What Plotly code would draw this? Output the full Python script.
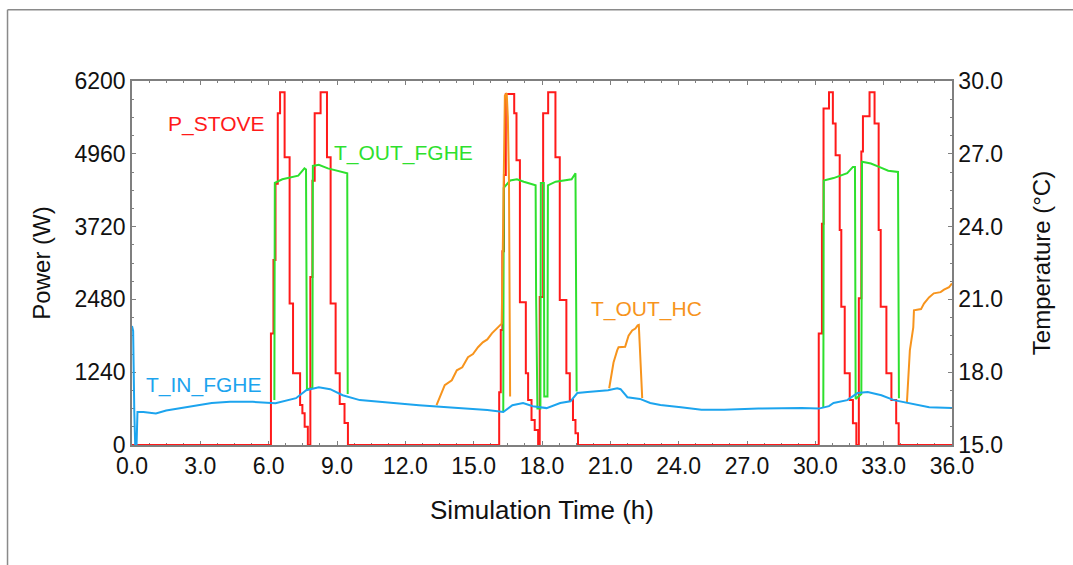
import plotly.graph_objects as go

# ---------------- data ----------------
# P_STOVE: stepwise power (W), step change points (drawn with hv steps)
p_time = [0.00, 6.10, 6.21, 6.30, 6.40, 6.50, 6.70, 6.92, 7.07, 7.38, 7.48, 7.58, 7.72,
          7.83, 7.92, 8.02, 8.28, 8.56, 8.72, 8.94, 9.12, 9.33, 9.48,
          16.12, 16.19, 16.26, 16.33, 16.41, 16.78, 16.88, 17.03, 17.29, 17.39, 17.54, 17.68, 17.83,
          17.90, 18.05, 18.27, 18.59, 18.78, 19.07, 19.22, 19.36, 19.47, 19.58,
          30.15, 30.29, 30.36, 30.60, 30.77, 30.89, 31.07, 31.14, 31.29, 31.51, 31.65, 31.80,
          31.91, 32.02, 32.09, 32.38, 32.60, 32.78, 32.87, 33.12, 33.34, 33.55, 33.66, 36.00]
p_power = [0, 1900, 3150, 4450, 5650, 6010, 4900, 2410, 1220, 680, 540, 310, 0,
           2860, 4500, 5650, 6010, 4900, 2410, 1220, 700, 375, 0,
           900, 1960, 3300, 4600, 5980, 5650, 4850, 2430, 1220, 765, 425, 255, 0,
           2520, 5650, 6010, 4900, 2470, 1220, 765, 425, 200, 0,
           1900, 3770, 5730, 6010, 5475, 4935, 3660, 2355, 1220, 765, 370, 0,
           2500, 5000, 5600, 6010, 5475, 3660, 2355, 1220, 765, 370, 0, 0]

# T_OUT_FGHE (degC), shown only while the stove runs (None = gap)
fghe_out_time = [6.25, 6.27, 6.60, 7.00, 7.30, 7.57, 7.64, 7.68, 7.92, 7.94, 8.20, 8.60, 9.00, 9.40, 9.45, 9.47, None,
                 16.30, 16.32, 16.60, 16.90, 17.20, 17.55, 17.72, 17.74, 17.80, 17.93, 17.95, 18.08, 18.10, 18.24,
                 18.26, 18.60, 19.00, 19.30, 19.47, 19.52, None,
                 30.35, 30.37, 30.80, 31.10, 31.40, 31.65, 31.74, 31.77, 32.02, 32.05, 32.44, 32.80, 33.20, 33.63, 33.67]
fghe_out_temp = [16.85, 25.80, 25.95, 26.05, 26.10, 26.40, 26.35, 17.30, 17.35, 26.50, 26.55, 26.40, 26.30, 26.20, 26.20, 17.10, None,
                 16.40, 25.60, 25.90, 25.95, 25.85, 25.75, 25.70, 21.20, 16.50, 16.50, 25.80, 25.80, 17.00, 17.00,
                 25.70, 25.85, 25.90, 25.95, 26.20, 17.20, None,
                 16.55, 25.90, 26.00, 26.10, 26.20, 26.46, 26.46, 16.90, 17.10, 26.67, 26.60, 26.46, 26.30, 26.25, 16.93]

# T_OUT_HC (degC)
hc_time = [13.37, 13.73, 14.04, 14.26, 14.50, 14.75, 14.97, 15.19, 15.40, 15.60, 15.80, 16.07, 16.23,
           16.28, 16.33, 16.37, 16.45, 16.50, 16.55, 16.60, None,
           20.95, 21.08, 21.14, 21.30, 21.36, 21.65, 21.80, 21.96, 22.10, 22.20, 22.25, 22.40, None,
           34.02, 34.07, 34.15, 34.30, 34.33, 34.64, 34.77, 34.99, 35.20, 35.50, 35.65, 35.87, 36.00]
hc_temp = [16.64, 17.47, 17.67, 18.08, 18.20, 18.62, 18.75, 19.03, 19.23, 19.35, 19.60, 19.85, 20.00,
           23.10, 27.25, 29.40, 29.50, 28.50, 25.90, 17.00, None,
           17.34, 17.96, 18.40, 18.90, 19.03, 19.05, 19.50, 19.72, 19.80, 19.93, 19.95, 16.93, None,
           16.73, 17.67, 18.90, 19.85, 20.55, 20.60, 20.83, 21.08, 21.25, 21.30, 21.40, 21.50, 21.66]

# T_IN_FGHE (degC)
fghe_in_time = [0.00, 0.05, 0.10, 0.14, 0.20, 0.24, 0.50, 1.05, 1.50, 2.40, 3.50, 4.30, 5.30, 6.30, 6.60,
                7.20, 7.65, 8.20, 8.70, 9.25, 10.00, 10.90, 12.60, 14.00, 15.60, 16.30, 16.70, 17.17,
                17.60, 18.20, 18.80, 19.25, 19.55, 20.00, 20.90, 21.30, 21.45, 21.75, 22.30, 22.75,
                23.20, 24.10, 25.00, 26.00, 27.50, 29.40, 30.15, 30.60, 30.80, 31.40, 31.85, 32.30,
                32.90, 33.45, 34.10, 35.00, 36.00]
fghe_in_temp = [19.90, 19.70, 16.40, 15.00, 15.00, 16.36, 16.36, 16.30, 16.42, 16.56, 16.73, 16.78, 16.78, 16.72, 16.80,
                16.93, 17.26, 17.38, 17.30, 17.05, 16.85, 16.77, 16.64, 16.55, 16.44, 16.36, 16.64, 16.73,
                16.60, 16.52, 16.73, 16.80, 17.14, 17.18, 17.26, 17.34, 17.30, 16.97, 16.90, 16.73,
                16.65, 16.56, 16.45, 16.45, 16.50, 16.52, 16.50, 16.60, 16.73, 16.85, 17.14, 17.18,
                17.05, 16.85, 16.73, 16.56, 16.52]

x_ticks = [0, 3, 6, 9, 12, 15, 18, 21, 24, 27, 30, 33, 36]
power_ticks = [0, 1240, 2480, 3720, 4960, 6200]
temp_ticks = [15, 18, 21, 24, 27, 30]

RED = "#ff1a1a"
GREEN = "#2ee02e"
ORANGE = "#f7941d"
BLUE = "#1ca4ee"
AXIS = "#7f7f7f"
FONT = "Liberation Sans, Arial, sans-serif"

fig = go.Figure()
fig.add_trace(go.Scatter(x=fghe_out_time, y=fghe_out_temp, yaxis="y2", mode="lines",
                         line=dict(color=GREEN, width=2), connectgaps=False, name="T_OUT_FGHE"))
fig.add_trace(go.Scatter(x=p_time, y=p_power, mode="lines", line_shape="hv",
                         line=dict(color=RED, width=2), name="P_STOVE"))
fig.add_trace(go.Scatter(x=hc_time, y=hc_temp, yaxis="y2", mode="lines",
                         line=dict(color=ORANGE, width=2), connectgaps=False, name="T_OUT_HC"))
fig.add_trace(go.Scatter(x=fghe_in_time, y=fghe_in_temp, yaxis="y2", mode="lines",
                         line=dict(color=BLUE, width=2), name="T_IN_FGHE"))

labels = [("P_STOVE", 3.69, 5463, RED), ("T_OUT_FGHE", 11.94, 4970, GREEN),
          ("T_OUT_HC", 22.6, 2315, ORANGE), ("T_IN_FGHE", 3.16, 1021, BLUE)]
for txt, lx, ly, col in labels:
    fig.add_annotation(x=lx, y=ly, xref="x", yref="y", text=txt, showarrow=False,
                       font=dict(family=FONT, size=21, color=col))

tickfont = dict(family=FONT, size=23, color="#111111")
ytitlefont = dict(family=FONT, size=24, color="#111111")
xtitlefont = dict(family=FONT, size=26, color="#111111")

fig.update_layout(
    width=1073, height=565,
    margin=dict(l=132, r=121, t=81, b=120),
    paper_bgcolor="white", plot_bgcolor="white",
    showlegend=False,
    xaxis=dict(range=[0, 36], tickvals=x_ticks, tickformat=".1f", ticks="inside", ticklen=4,
               tickcolor=AXIS, showline=True, linecolor=AXIS, linewidth=1.5, mirror="ticks",
               showgrid=False, zeroline=False, tickfont=tickfont, layer="below traces",
               minor=dict(dtick=0.75, ticks="inside", ticklen=2.5, tickcolor=AXIS, showgrid=False),
               title=dict(text="Simulation Time (h)", font=xtitlefont, standoff=22)),
    yaxis=dict(range=[0, 6200], tickvals=power_ticks, tickformat="d", ticks="inside", ticklen=4,
               tickcolor=AXIS, showline=True, linecolor=AXIS, linewidth=1.5,
               showgrid=False, zeroline=False, tickfont=tickfont, layer="below traces",
               minor=dict(dtick=310, ticks="inside", ticklen=2.5, tickcolor=AXIS, showgrid=False),
               title=dict(text="Power (W)", font=ytitlefont, standoff=17)),
    yaxis2=dict(range=[15, 30], tickvals=temp_ticks, tickformat=".1f", ticks="inside", ticklen=4,
                tickcolor=AXIS, showline=True, linecolor=AXIS, linewidth=1.5,
                overlaying="y", side="right", showgrid=False, zeroline=False, tickfont=tickfont,
                minor=dict(dtick=0.75, ticks="inside", ticklen=2.5, tickcolor=AXIS, showgrid=False),
                title=dict(text="Temperature (°C)", font=ytitlefont, standoff=31)),
)

# outer frame of the original screenshot (left and top edges)
fig.add_shape(type="line", xref="paper", yref="paper", x0=-0.1518, x1=-0.1518, y0=-0.5, y1=1.1954,
              line=dict(color="#8a8a8a", width=1.5))
fig.add_shape(type="line", xref="paper", yref="paper", x0=-0.1518, x1=1.5, y0=1.1954, y1=1.1954,
              line=dict(color="#8a8a8a", width=1.5))

fig.write_html("out.html")
